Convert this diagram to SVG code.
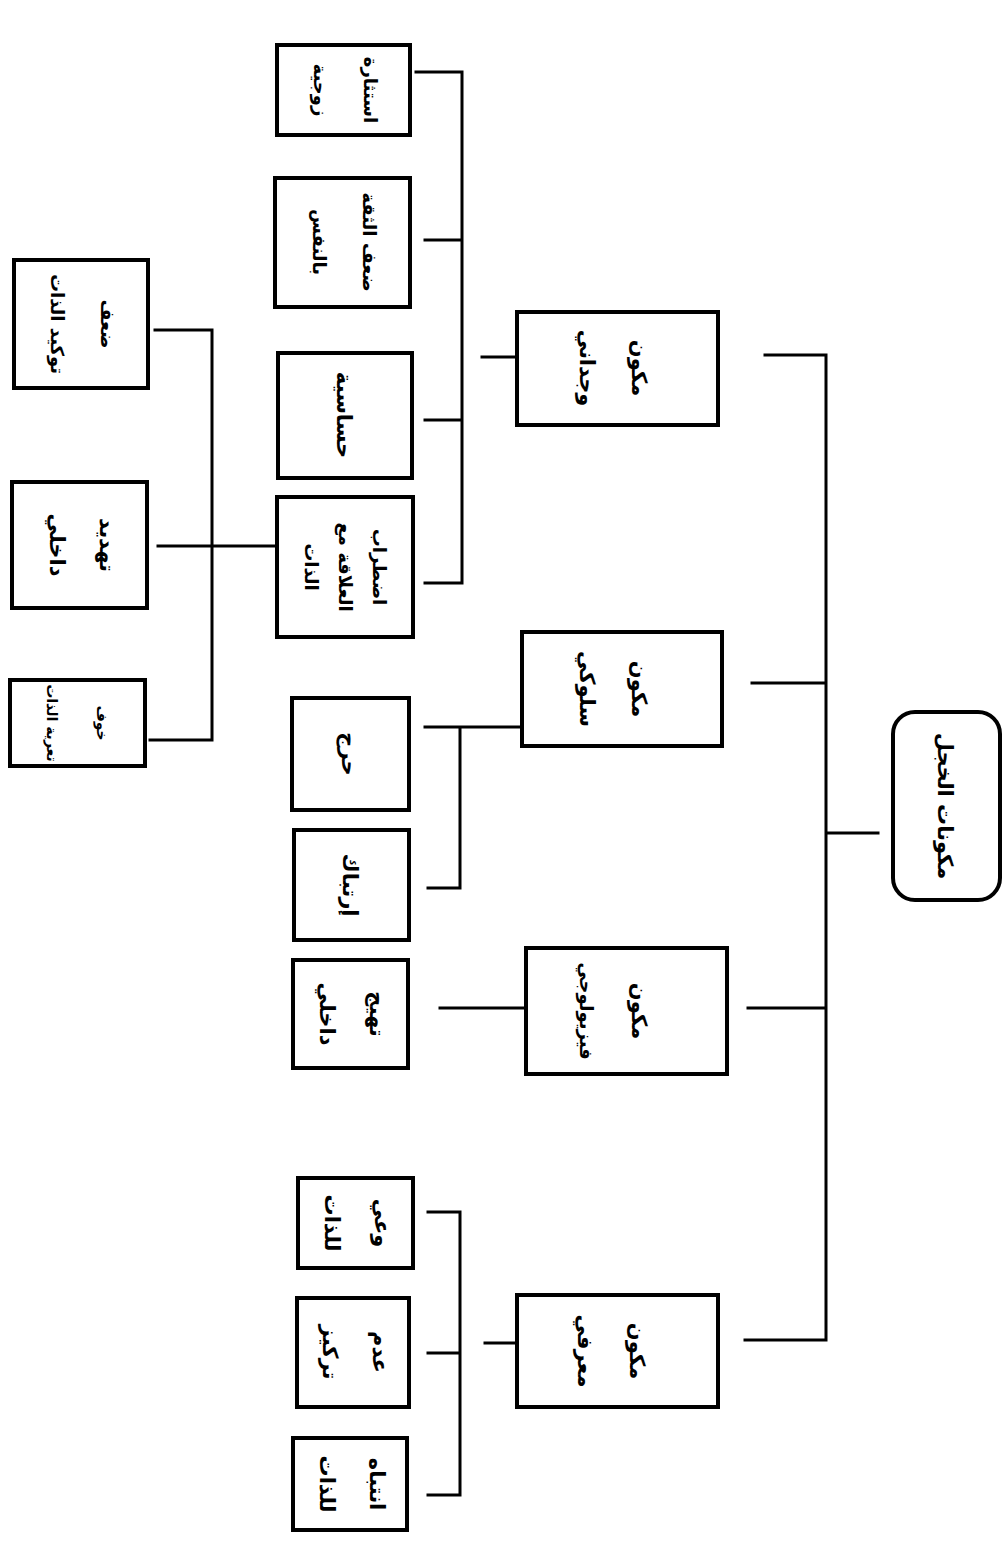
<svg xmlns="http://www.w3.org/2000/svg" width="1007" height="1550" viewBox="0 0 1007 1550">
  <style>
    .box { fill: #ffffff; stroke: #000000; stroke-width: 4; }
    .wire { fill: none; stroke: #000000; stroke-width: 3; stroke-linecap: square; }
    .lbl { font-family: "DejaVu Sans", sans-serif; font-weight: bold; font-size: 21px; fill: #000000; text-anchor: middle; direction: rtl; }
    .sm { font-size: 18px; }
    .xs { font-size: 14px; }
  </style>
  <rect width="1007" height="1550" fill="#ffffff"/>

  <!-- connectors -->
  <g id="connectors">
    <!-- main trunk from the root -->
    <path class="wire" d="M826 355 V1340 M826 833 H878 M765 355 H826 M752 683 H826 M748 1008 H826 M745 1340 H826"/>
    <!-- emotional branch -->
    <path class="wire" d="M482 357 H517 M462 72 V583 M416 72 H462 M425 240 H462 M425 420 H462 M425 583 H462"/>
    <!-- sub-branch of the self-relation box -->
    <path class="wire" d="M158 546 H277 M212 330 V740 M155 330 H212 M150 740 H212"/>
    <!-- behavioural branch -->
    <path class="wire" d="M425 727 H522 M460 727 V888 M428 888 H460"/>
    <!-- physiological branch -->
    <path class="wire" d="M440 1008 H526"/>
    <!-- cognitive branch -->
    <path class="wire" d="M485 1343 H517 M460 1212 V1495 M428 1212 H460 M428 1353 H460 M428 1495 H460"/>
  </g>

  <!-- root -->
  <g id="root">
    <rect class="box" x="893" y="712" width="107" height="188" rx="22"/>
    <g transform="translate(946 806) rotate(90)">
      <text class="lbl" x="0" y="8">مكونات الخجل</text>
    </g>
  </g>

  <!-- first level -->
  <g id="emotional">
    <rect class="box" x="517" y="312" width="201" height="113"/>
    <g transform="translate(612 368) rotate(90)">
      <text class="lbl"><tspan x="0" y="-20">مكون</tspan><tspan x="0" y="32">وجداني</tspan></text>
    </g>
  </g>
  <g id="behavioral">
    <rect class="box" x="522" y="632" width="200" height="114"/>
    <g transform="translate(612 689) rotate(90)">
      <text class="lbl"><tspan x="0" y="-20">مكون</tspan><tspan x="0" y="32">سلوكي</tspan></text>
    </g>
  </g>
  <g id="physiological">
    <rect class="box" x="526" y="948" width="201" height="126"/>
    <g transform="translate(612 1011) rotate(90)">
      <text class="lbl"><tspan x="0" y="-20">مكون</tspan><tspan x="0" y="32" class="sm">فيزيولوجي</tspan></text>
    </g>
  </g>
  <g id="cognitive">
    <rect class="box" x="517" y="1295" width="201" height="112"/>
    <g transform="translate(610 1351) rotate(90)">
      <text class="lbl"><tspan x="0" y="-20">مكون</tspan><tspan x="0" y="32">معرفي</tspan></text>
    </g>
  </g>

  <!-- emotional children -->
  <g id="arousal">
    <rect class="box" x="277" y="45" width="133" height="90"/>
    <g transform="translate(344 90) rotate(90)">
      <text class="lbl sm"><tspan x="0" y="-20">استثارة</tspan><tspan x="0" y="30">زوجية</tspan></text>
    </g>
  </g>
  <g id="low-confidence">
    <rect class="box" x="275" y="178" width="135" height="129"/>
    <g transform="translate(343 242) rotate(90)">
      <text class="lbl sm"><tspan x="0" y="-20">ضعف الثقة</tspan><tspan x="0" y="30">بالنفس</tspan></text>
    </g>
  </g>
  <g id="sensitivity">
    <rect class="box" x="278" y="353" width="134" height="125"/>
    <g transform="translate(345 415) rotate(90)">
      <text class="lbl" x="0" y="8">حساسية</text>
    </g>
  </g>
  <g id="self-relation">
    <rect class="box" x="277" y="497" width="136" height="140"/>
    <g transform="translate(345 567) rotate(90)">
      <text class="lbl sm"><tspan x="0" y="-28">اضطراب</tspan><tspan x="0" y="6">العلاقة مع</tspan><tspan x="0" y="40">الذات</tspan></text>
    </g>
  </g>

  <!-- children of the self-relation box -->
  <g id="weak-assertion">
    <rect class="box" x="14" y="260" width="134" height="128"/>
    <g transform="translate(81 324) rotate(90)">
      <text class="lbl sm"><tspan x="0" y="-20">ضعف</tspan><tspan x="0" y="30">توكيد الذات</tspan></text>
    </g>
  </g>
  <g id="inner-threat">
    <rect class="box" x="12" y="482" width="135" height="126"/>
    <g transform="translate(80 545) rotate(90)">
      <text class="lbl"><tspan x="0" y="-20">تهديد</tspan><tspan x="0" y="30">داخلي</tspan></text>
    </g>
  </g>
  <g id="exposure-fear">
    <rect class="box" x="10" y="680" width="135" height="86"/>
    <g transform="translate(77 723) rotate(90)">
      <text class="lbl xs"><tspan x="0" y="-20">خوف</tspan><tspan x="0" y="30">تعرية الذات</tspan></text>
    </g>
  </g>

  <!-- behavioural children -->
  <g id="embarrassment">
    <rect class="box" x="292" y="698" width="117" height="112"/>
    <g transform="translate(350 754) rotate(90)">
      <text class="lbl" x="0" y="8">حرج</text>
    </g>
  </g>
  <g id="confusion">
    <rect class="box" x="294" y="830" width="115" height="110"/>
    <g transform="translate(351 885) rotate(90)">
      <text class="lbl" x="0" y="8">إرتباك</text>
    </g>
  </g>

  <!-- physiological child -->
  <g id="inner-arousal">
    <rect class="box" x="293" y="960" width="115" height="108"/>
    <g transform="translate(350 1014) rotate(90)">
      <text class="lbl"><tspan x="0" y="-20">تهيج</tspan><tspan x="0" y="30">داخلي</tspan></text>
    </g>
  </g>

  <!-- cognitive children -->
  <g id="self-awareness">
    <rect class="box" x="298" y="1178" width="115" height="90"/>
    <g transform="translate(355 1223) rotate(90)">
      <text class="lbl"><tspan x="0" y="-20">وعي</tspan><tspan x="0" y="30">للذات</tspan></text>
    </g>
  </g>
  <g id="poor-focus">
    <rect class="box" x="297" y="1298" width="112" height="109"/>
    <g transform="translate(353 1352) rotate(90)">
      <text class="lbl"><tspan x="0" y="-20">عدم</tspan><tspan x="0" y="30">تركيز</tspan></text>
    </g>
  </g>
  <g id="self-attention">
    <rect class="box" x="293" y="1438" width="114" height="92"/>
    <g transform="translate(350 1484) rotate(90)">
      <text class="lbl"><tspan x="0" y="-20">انتباه</tspan><tspan x="0" y="30">للذات</tspan></text>
    </g>
  </g>
</svg>
